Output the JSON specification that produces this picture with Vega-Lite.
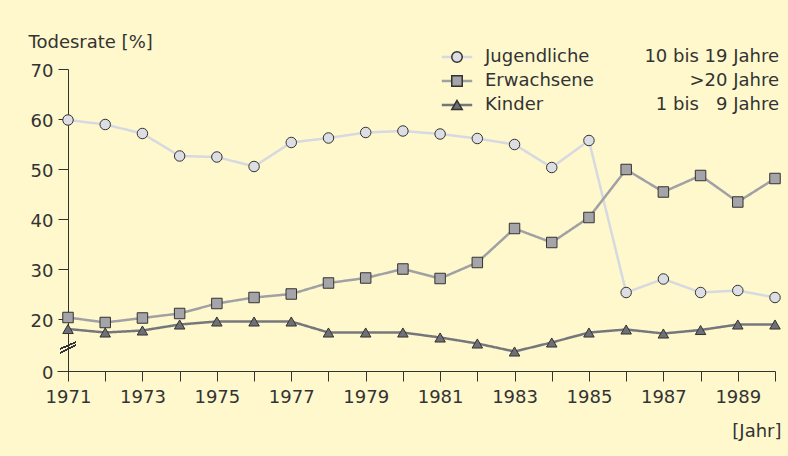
{
  "$schema": "https://vega.github.io/schema/vega-lite/v6.json",
  "width": 718,
  "height": 302,
  "autosize": {"type": "none"},
  "padding": {"left": 57, "top": 69, "right": 13, "bottom": 85},
  "background": "#fef8cc",
  "config": {
    "view": {"stroke": null},
    "font": "DejaVu Sans",
    "axis": {"labelFont": "DejaVu Sans", "titleFont": "DejaVu Sans", "labelFontSize": 18, "titleFontSize": 18, "labelColor": "#333333", "titleColor": "#333333", "titleFontWeight": "normal", "domainColor": "#333333", "tickColor": "#333333", "grid": false},
    "legend": {"labelFont": "DejaVu Sans", "labelFontSize": 18, "labelColor": "#333333", "padding": 0}
  },
  "data": {"values": [
    {"Jahr": 1971, "Gruppe": "Jugendliche", "Alter": "10 bis 19 Jahre", "Wert": 59.8},
    {"Jahr": 1972, "Gruppe": "Jugendliche", "Alter": "10 bis 19 Jahre", "Wert": 58.9},
    {"Jahr": 1973, "Gruppe": "Jugendliche", "Alter": "10 bis 19 Jahre", "Wert": 57.1},
    {"Jahr": 1974, "Gruppe": "Jugendliche", "Alter": "10 bis 19 Jahre", "Wert": 52.6},
    {"Jahr": 1975, "Gruppe": "Jugendliche", "Alter": "10 bis 19 Jahre", "Wert": 52.4},
    {"Jahr": 1976, "Gruppe": "Jugendliche", "Alter": "10 bis 19 Jahre", "Wert": 50.5},
    {"Jahr": 1977, "Gruppe": "Jugendliche", "Alter": "10 bis 19 Jahre", "Wert": 55.3},
    {"Jahr": 1978, "Gruppe": "Jugendliche", "Alter": "10 bis 19 Jahre", "Wert": 56.2},
    {"Jahr": 1979, "Gruppe": "Jugendliche", "Alter": "10 bis 19 Jahre", "Wert": 57.3},
    {"Jahr": 1980, "Gruppe": "Jugendliche", "Alter": "10 bis 19 Jahre", "Wert": 57.6},
    {"Jahr": 1981, "Gruppe": "Jugendliche", "Alter": "10 bis 19 Jahre", "Wert": 57.0},
    {"Jahr": 1982, "Gruppe": "Jugendliche", "Alter": "10 bis 19 Jahre", "Wert": 56.1},
    {"Jahr": 1983, "Gruppe": "Jugendliche", "Alter": "10 bis 19 Jahre", "Wert": 54.9},
    {"Jahr": 1984, "Gruppe": "Jugendliche", "Alter": "10 bis 19 Jahre", "Wert": 50.3},
    {"Jahr": 1985, "Gruppe": "Jugendliche", "Alter": "10 bis 19 Jahre", "Wert": 55.7},
    {"Jahr": 1986, "Gruppe": "Jugendliche", "Alter": "10 bis 19 Jahre", "Wert": 25.3},
    {"Jahr": 1987, "Gruppe": "Jugendliche", "Alter": "10 bis 19 Jahre", "Wert": 28.0},
    {"Jahr": 1988, "Gruppe": "Jugendliche", "Alter": "10 bis 19 Jahre", "Wert": 25.3},
    {"Jahr": 1989, "Gruppe": "Jugendliche", "Alter": "10 bis 19 Jahre", "Wert": 25.7},
    {"Jahr": 1990, "Gruppe": "Jugendliche", "Alter": "10 bis 19 Jahre", "Wert": 24.3},
    {"Jahr": 1971, "Gruppe": "Erwachsene", "Alter": ">20 Jahre", "Wert": 20.3},
    {"Jahr": 1972, "Gruppe": "Erwachsene", "Alter": ">20 Jahre", "Wert": 19.3},
    {"Jahr": 1973, "Gruppe": "Erwachsene", "Alter": ">20 Jahre", "Wert": 20.2},
    {"Jahr": 1974, "Gruppe": "Erwachsene", "Alter": ">20 Jahre", "Wert": 21.1},
    {"Jahr": 1975, "Gruppe": "Erwachsene", "Alter": ">20 Jahre", "Wert": 23.1},
    {"Jahr": 1976, "Gruppe": "Erwachsene", "Alter": ">20 Jahre", "Wert": 24.3},
    {"Jahr": 1977, "Gruppe": "Erwachsene", "Alter": ">20 Jahre", "Wert": 25.0},
    {"Jahr": 1978, "Gruppe": "Erwachsene", "Alter": ">20 Jahre", "Wert": 27.2},
    {"Jahr": 1979, "Gruppe": "Erwachsene", "Alter": ">20 Jahre", "Wert": 28.2},
    {"Jahr": 1980, "Gruppe": "Erwachsene", "Alter": ">20 Jahre", "Wert": 30.0},
    {"Jahr": 1981, "Gruppe": "Erwachsene", "Alter": ">20 Jahre", "Wert": 28.1},
    {"Jahr": 1982, "Gruppe": "Erwachsene", "Alter": ">20 Jahre", "Wert": 31.3},
    {"Jahr": 1983, "Gruppe": "Erwachsene", "Alter": ">20 Jahre", "Wert": 38.1},
    {"Jahr": 1984, "Gruppe": "Erwachsene", "Alter": ">20 Jahre", "Wert": 35.3},
    {"Jahr": 1985, "Gruppe": "Erwachsene", "Alter": ">20 Jahre", "Wert": 40.3},
    {"Jahr": 1986, "Gruppe": "Erwachsene", "Alter": ">20 Jahre", "Wert": 49.9},
    {"Jahr": 1987, "Gruppe": "Erwachsene", "Alter": ">20 Jahre", "Wert": 45.4},
    {"Jahr": 1988, "Gruppe": "Erwachsene", "Alter": ">20 Jahre", "Wert": 48.7},
    {"Jahr": 1989, "Gruppe": "Erwachsene", "Alter": ">20 Jahre", "Wert": 43.4},
    {"Jahr": 1990, "Gruppe": "Erwachsene", "Alter": ">20 Jahre", "Wert": 48.1},
    {"Jahr": 1971, "Gruppe": "Kinder", "Alter": "1 bis 9 Jahre", "Wert": 18.0},
    {"Jahr": 1972, "Gruppe": "Kinder", "Alter": "1 bis 9 Jahre", "Wert": 17.3},
    {"Jahr": 1973, "Gruppe": "Kinder", "Alter": "1 bis 9 Jahre", "Wert": 17.7},
    {"Jahr": 1974, "Gruppe": "Kinder", "Alter": "1 bis 9 Jahre", "Wert": 18.9},
    {"Jahr": 1975, "Gruppe": "Kinder", "Alter": "1 bis 9 Jahre", "Wert": 19.5},
    {"Jahr": 1976, "Gruppe": "Kinder", "Alter": "1 bis 9 Jahre", "Wert": 19.5},
    {"Jahr": 1977, "Gruppe": "Kinder", "Alter": "1 bis 9 Jahre", "Wert": 19.5},
    {"Jahr": 1978, "Gruppe": "Kinder", "Alter": "1 bis 9 Jahre", "Wert": 17.3},
    {"Jahr": 1979, "Gruppe": "Kinder", "Alter": "1 bis 9 Jahre", "Wert": 17.3},
    {"Jahr": 1980, "Gruppe": "Kinder", "Alter": "1 bis 9 Jahre", "Wert": 17.3},
    {"Jahr": 1981, "Gruppe": "Kinder", "Alter": "1 bis 9 Jahre", "Wert": 16.3},
    {"Jahr": 1982, "Gruppe": "Kinder", "Alter": "1 bis 9 Jahre", "Wert": 15.1},
    {"Jahr": 1983, "Gruppe": "Kinder", "Alter": "1 bis 9 Jahre", "Wert": 13.5},
    {"Jahr": 1984, "Gruppe": "Kinder", "Alter": "1 bis 9 Jahre", "Wert": 15.3},
    {"Jahr": 1985, "Gruppe": "Kinder", "Alter": "1 bis 9 Jahre", "Wert": 17.3},
    {"Jahr": 1986, "Gruppe": "Kinder", "Alter": "1 bis 9 Jahre", "Wert": 17.9},
    {"Jahr": 1987, "Gruppe": "Kinder", "Alter": "1 bis 9 Jahre", "Wert": 17.1},
    {"Jahr": 1988, "Gruppe": "Kinder", "Alter": "1 bis 9 Jahre", "Wert": 17.8},
    {"Jahr": 1989, "Gruppe": "Kinder", "Alter": "1 bis 9 Jahre", "Wert": 18.9},
    {"Jahr": 1990, "Gruppe": "Kinder", "Alter": "1 bis 9 Jahre", "Wert": 18.9}
  ]},
  "encoding": {
    "x": {
      "field": "Jahr", "type": "quantitative",
      "scale": {"domain": [1970.704, 1990], "nice": false, "zero": false},
      "axis": {
        "values": [1971,1972,1973,1974,1975,1976,1977,1978,1979,1980,1981,1982,1983,1984,1985,1986,1987,1988,1989,1990],
        "labelExpr": "datum.value % 2 == 1 ? '' + datum.value : ''",
        "tickSize": 10, "labelPadding": 7, "labelFlush": false, "labelOverlap": false,
        "title": "[Jahr]", "titleAlign": "right", "titleAnchor": null, "titleBaseline": "alphabetic",
        "titleX": 724, "titleY": 65
      }
    },
    "y": {
      "field": "Wert", "type": "quantitative",
      "scale": {"type": "linear", "domain": [0, 10, 70], "range": [302, 300, 0], "nice": false, "zero": false},
      "axis": {
        "values": [0, 20, 30, 40, 50, 60, 70],
        "offset": -11, "tickSize": 10, "labelPadding": 5, "labelOffset": 2,
        "title": "Todesrate [%]", "titleAngle": 0, "titleAlign": "left", "titleAnchor": null, "titleBaseline": "alphabetic",
        "titleX": -40, "titleY": -22
      }
    }
  },
  "layer": [
    {
      "mark": {"type": "line", "strokeWidth": 2.5},
      "encoding": {
        "stroke": {
          "field": "Gruppe", "type": "nominal", "sort": null,
          "scale": {"range": ["#d6d9e1", "#a0a0a5", "#76777c"]},
          "legend": {"orient": "none", "legendX": 391, "legendY": -21, "title": null, "symbolType": "M-2.9,0H2.9", "symbolSize": 110, "symbolStrokeWidth": 2.5, "labelOffset": 19, "rowPadding": 6}
        },
        "strokeDash": {
          "field": "Alter", "type": "nominal",
          "scale": {"domain": ["10 bis 19 Jahre", ">20 Jahre", "1 bis 9 Jahre"], "range": [[1, 0], [1, 0], [1, 0]]},
          "legend": {"orient": "none", "legendX": 704, "legendY": -21, "title": null, "symbolOpacity": 0, "symbolSize": 0, "labelAlign": "right", "labelOffset": 0, "rowPadding": 6,
            "labelExpr": "datum.label == '1 bis 9 Jahre' ? '1 bis \u00a0\u00a09 Jahre' : datum.label"}
        }
      }
    },
    {
      "mark": {"type": "point", "filled": true, "opacity": 1, "stroke": "#333333", "strokeWidth": 1, "size": 110},
      "encoding": {
        "shape": {
          "field": "Gruppe", "type": "nominal",
          "scale": {"domain": ["Jugendliche", "Erwachsene", "Kinder"], "range": ["circle", "square", "triangle-up"]},
          "legend": {"orient": "none", "legendX": 391, "legendY": -21, "title": null, "symbolSize": 110, "symbolOpacity": 1, "labelColor": "transparent", "labelOffset": 19, "rowPadding": 6,
            "encode": {"symbols": {"update": {"stroke": {"value": "#333333"}, "strokeWidth": {"value": 1}}}}}
        },
        "fill": {
          "field": "Gruppe", "type": "nominal",
          "scale": {"domain": ["Jugendliche", "Erwachsene", "Kinder"], "range": ["#dcdee3", "#a4a4a9", "#6f7075"]},
          "legend": {"orient": "none", "legendX": 391, "legendY": -21, "title": null, "symbolSize": 110, "symbolOpacity": 1, "labelColor": "transparent", "labelOffset": 19, "rowPadding": 6,
            "encode": {"symbols": {"update": {"stroke": {"value": "#333333"}, "strokeWidth": {"value": 1}}}}}
        }
      }
    },
    {
      "mark": {"type": "point", "shape": "M-1,0.19L1,-0.69M-1,0.69L1,-0.31", "filled": false, "stroke": "#333333", "strokeWidth": 1, "size": 256, "opacity": 1},
      "encoding": {
        "x": {"datum": 1971},
        "y": {"datum": 14.3}
      }
    }
  ]
}
